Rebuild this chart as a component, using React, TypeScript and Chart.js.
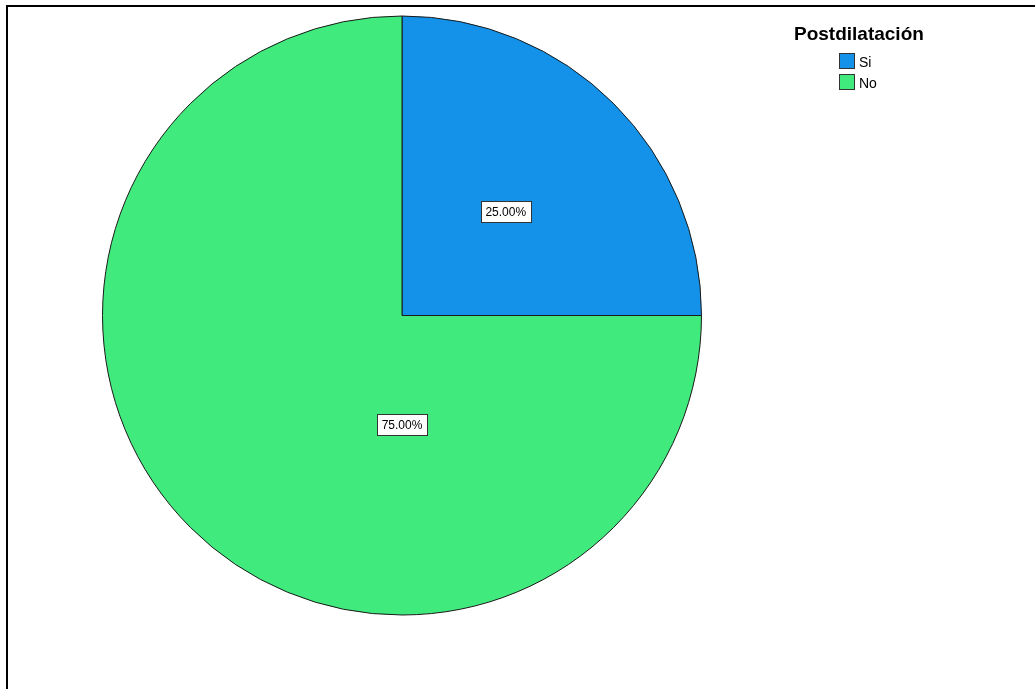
import React, { useEffect, useRef } from "react";
import { Chart, registerables } from "chart.js";

Chart.register(...registerables);

const categories = ["Si", "No"];
const values = [25, 75];
const percentLabels = ["25.00%", "75.00%"];
const colors = ["#1491E8", "#41EA7D"];
const legendTitle = "Postdilatación";

const FONT = "'Liberation Sans', Arial, sans-serif";

const labelPlugin = {
  id: "sliceLabels",
  afterDatasetsDraw(chart: any) {
    const ctx = chart.ctx;
    const meta = chart.getDatasetMeta(0);
    ctx.save();
    ctx.font = `12px ${FONT}`;
    ctx.textAlign = "center";
    ctx.textBaseline = "middle";
    meta.data.forEach((arc: any, i: number) => {
      const p = arc.getProps(["x", "y", "startAngle", "endAngle", "outerRadius"], true);
      let ang = (p.startAngle + p.endAngle) / 2;
      let frac = 0.49;
      if (p.endAngle - p.startAngle > Math.PI) {
        ang = Math.PI / 2;
        frac = 0.365;
      }
      const cx = p.x + Math.cos(ang) * p.outerRadius * frac;
      const cy = p.y + Math.sin(ang) * p.outerRadius * frac;
      const text = percentLabels[i];
      const w = ctx.measureText(text).width + 9;
      const h = 21;
      ctx.fillStyle = "#ffffff";
      ctx.fillRect(Math.round(cx - w / 2) + 0.5, Math.round(cy - h / 2) + 0.5, Math.round(w), h);
      ctx.strokeStyle = "#333333";
      ctx.lineWidth = 1;
      ctx.strokeRect(Math.round(cx - w / 2) + 0.5, Math.round(cy - h / 2) + 0.5, Math.round(w), h);
      ctx.fillStyle = "#000000";
      ctx.fillText(text, cx, cy + 1);
    });
    ctx.restore();
  },
};

const legendPlugin = {
  id: "customLegend",
  afterDraw(chart: any) {
    const ctx = chart.ctx;
    ctx.save();
    ctx.fillStyle = "#000";
    ctx.textBaseline = "alphabetic";
    ctx.textAlign = "left";
    ctx.font = `bold 19px ${FONT}`;
    ctx.fillText(legendTitle, 794, 40);
    ctx.font = `14px ${FONT}`;
    categories.forEach((c, i) => {
      const y = 53 + i * 21;
      ctx.fillStyle = colors[i];
      ctx.fillRect(839.5, y + 0.5, 15, 15);
      ctx.strokeStyle = "#333";
      ctx.lineWidth = 1;
      ctx.strokeRect(839.5, y + 0.5, 15, 15);
      ctx.fillStyle = "#000";
      ctx.fillText(c, 859, y + 14);
    });
    ctx.restore();
  },
};

export default function App() {
  const ref = useRef<HTMLCanvasElement>(null);
  useEffect(() => {
    if (!ref.current) return;
    const chart = new Chart(ref.current, {
      type: "pie",
      data: {
        labels: categories,
        datasets: [
          {
            data: values,
            backgroundColor: colors,
            borderColor: "#1a1a1a",
            borderWidth: 1,
          },
        ],
      },
      options: {
        responsive: false,
        animation: false,
        layout: { padding: { left: 102, top: 15, right: 333, bottom: 73 } },
        plugins: {
          legend: { display: false },
          tooltip: { enabled: false },
        },
      },
      plugins: [labelPlugin, legendPlugin],
    });
    return () => chart.destroy();
  }, []);
  return (
    <div style={{ position: "fixed", left: 0, top: 0, width: 1035, height: 689, background: "#fff" }}>
      <canvas ref={ref} width={1035} height={689} style={{ position: "absolute", left: 0, top: 0 }} />
      <div
        style={{
          position: "absolute",
          left: 6,
          top: 5,
          width: 1035,
          height: 689,
          borderTop: "2px solid #000",
          borderLeft: "2px solid #000",
          pointerEvents: "none",
        }}
      />
    </div>
  );
}
